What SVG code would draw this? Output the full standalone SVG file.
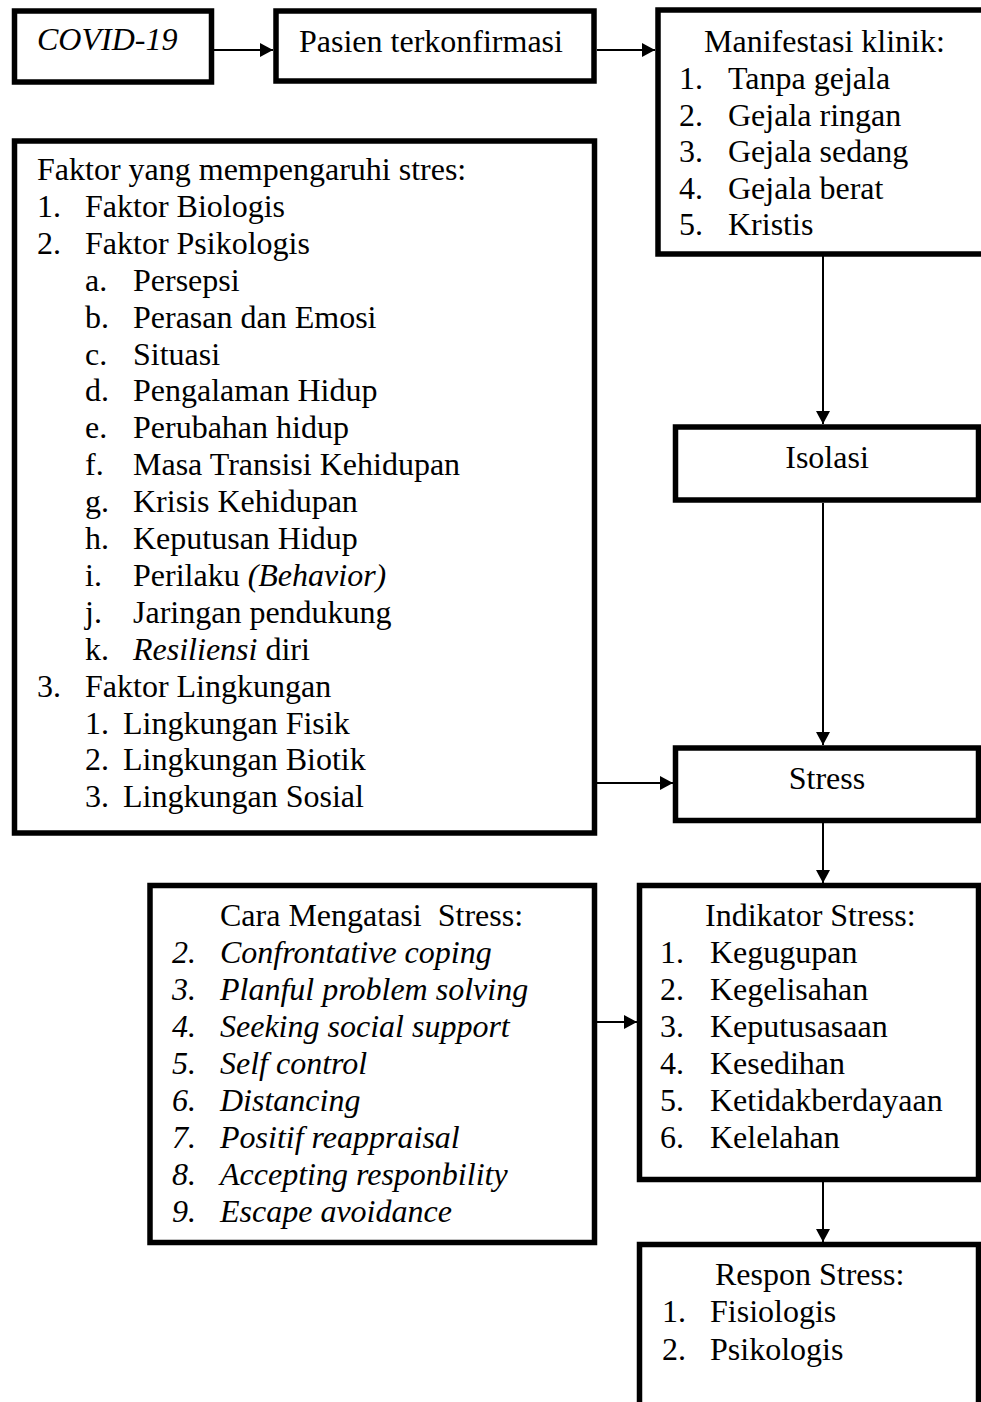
<svg xmlns="http://www.w3.org/2000/svg" width="981" height="1402" viewBox="0 0 981 1402">
<style>
.box{fill:#fff;stroke:#000;stroke-width:5.5}
.t{font-family:"Liberation Serif","Times New Roman",serif;font-size:32px;fill:#000}
.i{font-style:italic}
.c{stroke:#000;stroke-width:2;fill:none}
</style>
<defs>
<marker id="ah" markerUnits="userSpaceOnUse" markerWidth="14" markerHeight="14" refX="13" refY="7" orient="auto">
<path d="M0,0 L13,7 L0,14 z" fill="#000"/>
</marker>
</defs>
<rect width="981" height="1402" fill="#fff"/>
<g id="connectors">
<path class="c" d="M214,50 H273" marker-end="url(#ah)"/>
<path class="c" d="M597,50 H655" marker-end="url(#ah)"/>
<path class="c" d="M823,256 V424" marker-end="url(#ah)"/>
<path class="c" d="M823,503 V745" marker-end="url(#ah)"/>
<path class="c" d="M597,783 H673" marker-end="url(#ah)"/>
<path class="c" d="M823,823 V883" marker-end="url(#ah)"/>
<path class="c" d="M597,1022 H637" marker-end="url(#ah)"/>
<path class="c" d="M823,1182 V1242" marker-end="url(#ah)"/>
</g>
<g id="covid">
<rect class="box" x="14.5" y="11" width="197" height="71"/>
<text class="t i" x="37" y="50">COVID-19</text>
</g>
<g id="pasien">
<rect class="box" x="276" y="11" width="318" height="70"/>
<text class="t" x="299" y="52">Pasien terkonfirmasi</text>
</g>
<g id="manifestasi">
<rect class="box" x="658" y="10" width="340" height="244"/>
<text class="t" x="704" y="52">Manifestasi klinik:</text>
<text class="t" x="679" y="89">1.</text><text class="t" x="728" y="89">Tanpa gejala</text>
<text class="t" x="679" y="125.5">2.</text><text class="t" x="728" y="125.5">Gejala ringan</text>
<text class="t" x="679" y="162">3.</text><text class="t" x="728" y="162">Gejala sedang</text>
<text class="t" x="679" y="198.5">4.</text><text class="t" x="728" y="198.5">Gejala berat</text>
<text class="t" x="679" y="235">5.</text><text class="t" x="728" y="235">Kristis</text>
</g>
<g id="faktor">
<rect class="box" x="14.5" y="141" width="580" height="692"/>
<text class="t" x="37" y="180">Faktor yang mempengaruhi stres:</text>
<text class="t" x="37" y="216.9">1.</text><text class="t" x="85" y="216.9">Faktor Biologis</text>
<text class="t" x="37" y="253.8">2.</text><text class="t" x="85" y="253.8">Faktor Psikologis</text>
<text class="t" x="85" y="290.7">a.</text><text class="t" x="133" y="290.7">Persepsi</text>
<text class="t" x="85" y="327.6">b.</text><text class="t" x="133" y="327.6">Perasan dan Emosi</text>
<text class="t" x="85" y="364.5">c.</text><text class="t" x="133" y="364.5">Situasi</text>
<text class="t" x="85" y="401.4">d.</text><text class="t" x="133" y="401.4">Pengalaman Hidup</text>
<text class="t" x="85" y="438.3">e.</text><text class="t" x="133" y="438.3">Perubahan hidup</text>
<text class="t" x="85" y="475.2">f.</text><text class="t" x="133" y="475.2">Masa Transisi Kehidupan</text>
<text class="t" x="85" y="512.1">g.</text><text class="t" x="133" y="512.1">Krisis Kehidupan</text>
<text class="t" x="85" y="549">h.</text><text class="t" x="133" y="549">Keputusan Hidup</text>
<text class="t" x="85" y="585.9">i.</text><text class="t" x="133" y="585.9">Perilaku <tspan class="i">(Behavior)</tspan></text>
<text class="t" x="85" y="622.8">j.</text><text class="t" x="133" y="622.8">Jaringan pendukung</text>
<text class="t" x="85" y="659.7">k.</text><text class="t" x="133" y="659.7"><tspan class="i">Resiliensi</tspan> diri</text>
<text class="t" x="37" y="696.6">3.</text><text class="t" x="85" y="696.6">Faktor Lingkungan</text>
<text class="t" x="85" y="733.5">1.</text><text class="t" x="123" y="733.5">Lingkungan Fisik</text>
<text class="t" x="85" y="770.4">2.</text><text class="t" x="123" y="770.4">Lingkungan Biotik</text>
<text class="t" x="85" y="807.3">3.</text><text class="t" x="123" y="807.3">Lingkungan Sosial</text>
</g>
<g id="isolasi">
<rect class="box" x="675.5" y="427" width="303" height="73"/>
<text class="t" x="827" y="468" text-anchor="middle">Isolasi</text>
</g>
<g id="stress">
<rect class="box" x="675.5" y="748" width="303" height="72.5"/>
<text class="t" x="827" y="789" text-anchor="middle">Stress</text>
</g>
<g id="cara">
<rect class="box" x="150" y="885.5" width="444.5" height="357"/>
<text class="t" x="220" y="926" xml:space="preserve">Cara Mengatasi  Stress:</text>
<text class="t i" x="172" y="963">2.</text><text class="t i" x="220" y="963">Confrontative coping</text>
<text class="t i" x="172" y="1000">3.</text><text class="t i" x="220" y="1000">Planful problem solving</text>
<text class="t i" x="172" y="1037">4.</text><text class="t i" x="220" y="1037">Seeking social support</text>
<text class="t i" x="172" y="1074">5.</text><text class="t i" x="220" y="1074">Self control</text>
<text class="t i" x="172" y="1111">6.</text><text class="t i" x="220" y="1111">Distancing</text>
<text class="t i" x="172" y="1148">7.</text><text class="t i" x="220" y="1148">Positif reappraisal</text>
<text class="t i" x="172" y="1185">8.</text><text class="t i" x="220" y="1185">Accepting responbility</text>
<text class="t i" x="172" y="1222">9.</text><text class="t i" x="220" y="1222">Escape avoidance</text>
</g>
<g id="indikator">
<rect class="box" x="639.5" y="885.5" width="339" height="294"/>
<text class="t" x="705" y="926">Indikator Stress:</text>
<text class="t" x="660" y="963">1.</text><text class="t" x="710" y="963">Kegugupan</text>
<text class="t" x="660" y="1000">2.</text><text class="t" x="710" y="1000">Kegelisahan</text>
<text class="t" x="660" y="1037">3.</text><text class="t" x="710" y="1037">Keputusasaan</text>
<text class="t" x="660" y="1074">4.</text><text class="t" x="710" y="1074">Kesedihan</text>
<text class="t" x="660" y="1111">5.</text><text class="t" x="710" y="1111">Ketidakberdayaan</text>
<text class="t" x="660" y="1148">6.</text><text class="t" x="710" y="1148">Kelelahan</text>
</g>
<g id="respon">
<rect class="box" x="639.5" y="1244.5" width="339" height="200"/>
<text class="t" x="715" y="1285">Respon Stress:</text>
<text class="t" x="662" y="1322">1.</text><text class="t" x="710" y="1322">Fisiologis</text>
<text class="t" x="662" y="1360">2.</text><text class="t" x="710" y="1360">Psikologis</text>
</g>
</svg>
